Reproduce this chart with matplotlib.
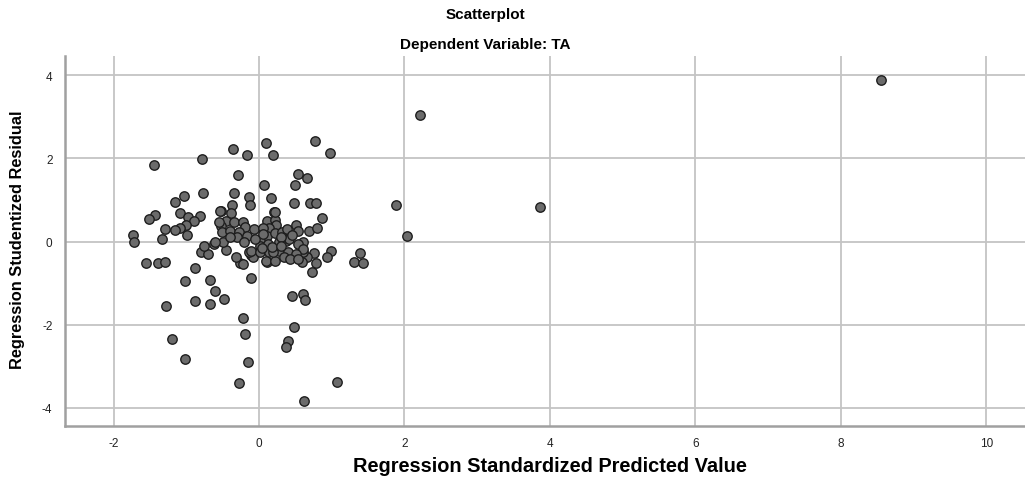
import matplotlib
matplotlib.use("Agg")
import matplotlib.pyplot as plt

# Regression standardized predicted value (x) and studentized residual (y)
pred = [8.55, 2.22, 3.86, 1.89, 2.04,
        0.77, 0.98, 0.09, -0.36, -0.16, 0.19, -0.79, -1.44,
        -0.29, 0.07, 0.54, 0.66, 0.49,
        -1.03, -1.15, -0.77, -0.35, -0.14, -0.13, 0.16, -0.37,
        -0.52, -0.39, 0.21, 0.48, 0.70, 0.79,
        -1.43, -1.51, -1.09, -0.97, -0.81, -0.90, -1.00, -1.09, -1.16, -1.29, -0.99, -1.73, -1.72, -1.33,
        0.87, 0.69, 0.80, 0.51, 0.53,
        1.39, 1.30, 1.43, 0.99, 0.94, 0.79, 0.73, 0.76, 0.66, 0.61, 0.59, 0.60,
        -1.55, -1.39, -1.29, -0.88, -1.02, -0.68, -0.60, -0.48, -0.88, -0.67, -1.28, -0.11, -0.22, -0.19,
        -1.20, -1.02, -0.15, -0.27, 0.62, 0.46, 0.60, 0.63, 0.48, 0.40, 0.37, 1.07,
        0.11, -0.26, -0.22, -0.32, -0.11, -0.08, -0.14, -0.46, -0.80, -0.70, -0.76, -0.62, -0.50,
        -0.46, -0.35, -0.22, -0.19, -0.52, -0.51, -0.40, -0.27, -0.16, -0.07, -0.61, 0.11, 0.22, 0.24,
        0.14, 0.06, 0.22, 0.11, 0.22, 0.31, 0.38, 0.01, 0.01, 0.13, 0.27, 0.37, 0.41, 0.53, 0.61,
        -0.11, 0.01, 0.14, 0.27, 0.40, 0.51, 0.10, 0.22, 0.34, 0.43, 0.53,
        -0.54, -0.55, 0.19,
        -0.05, 0.05, 0.30, 0.18, -0.30, -0.20, 0.45, 0.30, -0.40, 0.04]
resid = [3.88, 3.04, 0.84, 0.88, 0.13,
         2.41, 2.13, 2.38, 2.22, 2.08, 2.07, 1.98, 1.83,
         1.59, 1.35, 1.62, 1.53, 1.35,
         1.09, 0.96, 1.17, 1.16, 1.08, 0.89, 1.05, 0.87,
         0.73, 0.68, 0.72, 0.93, 0.92, 0.92,
         0.63, 0.54, 0.68, 0.60, 0.61, 0.49, 0.40, 0.32, 0.28, 0.30, 0.16, 0.16, 0.00, 0.05,
         0.56, 0.26, 0.32, 0.40, 0.26,
         -0.28, -0.49, -0.52, -0.22, -0.38, -0.52, -0.72, -0.28, -0.37, -0.25, -0.48, -0.02,
         -0.52, -0.52, -0.48, -0.63, -0.94, -0.92, -1.20, -1.37, -1.43, -1.50, -1.55, -0.87, -1.83, -2.22,
         -2.34, -2.82, -2.90, -3.39, -3.84, -1.31, -1.27, -1.40, -2.06, -2.40, -2.54, -3.37,
         -0.48, -0.52, -0.54, -0.37, -0.32, -0.37, -0.25, -0.20, -0.25, -0.31, -0.10, -0.06, -0.02,
         0.50, 0.46, 0.46, 0.36, 0.37, 0.22, 0.26, 0.24, 0.13, 0.30, -0.02, 0.50, 0.52, 0.41,
         0.32, 0.32, 0.70, 0.14, 0.20, 0.22, 0.30, 0.02, -0.10, -0.06, -0.02, 0.02, 0.06, -0.06, -0.18,
         -0.22, -0.26, -0.26, -0.22, -0.24, -0.30, -0.46, -0.46, -0.38, -0.42, -0.42,
         0.74, 0.46, -0.26,
         0.05, 0.18, 0.10, -0.14, 0.10, 0.00, 0.15, -0.10, 0.10, -0.15]

x_ticks = [-2, 0, 2, 4, 6, 8, 10]
y_ticks = [-4, -2, 0, 2, 4]
x_labels = ["-2", "0", "2", "4", "6", "8", "10"]
y_labels = ["-4", "-2", "0", "2", "4"]

title = "Scatterplot"
subtitle = "Dependent Variable: TA"
xlabel = "Regression Standardized Predicted Value"
ylabel = "Regression Studentized Residual"

plt.rcParams['font.family'] = ['Liberation Sans', 'DejaVu Sans']

fig = plt.figure(figsize=(10.25, 4.81), dpi=100)
ax = fig.add_axes([65/1025, 1 - 427.3/481, 1 - 65/1025, (427.3 - 57)/481])

ax.set_xlim(-2.667, 10.53)
ax.set_ylim(-4.44, 4.46)

ax.set_xticks(x_ticks)
ax.set_xticklabels(x_labels)
ax.set_yticks(y_ticks)
ax.set_yticklabels(y_labels)
ax.tick_params(axis='both', length=0, labelsize=8.5, colors='#222222')
ax.tick_params(axis='x', pad=8)
ax.tick_params(axis='y', pad=9)

ax.grid(True, color='#c4c4c4', linewidth=1.3)
ax.set_axisbelow(True)
for side in ['top', 'right']:
    ax.spines[side].set_visible(False)
for side in ['left', 'bottom']:
    ax.spines[side].set_color('#a0a0a0')
    ax.spines[side].set_linewidth(1.8)

ax.scatter(pred, resid, s=46, facecolor='#6b6b6b', edgecolor='#1e1e1e',
           linewidths=1.0, zorder=3)

fig.text(485/1025, 1 - 15/481, title, ha='center', va='center', fontsize=11,
         fontweight='bold')
fig.text(485/1025, 1 - 45/481, subtitle, ha='center', va='center', fontsize=11,
         fontweight='bold')
fig.text(550/1025, 1 - 467/481, xlabel, ha='center', va='center', fontsize=14.4,
         fontweight='bold')
fig.text(18/1025, 1 - 240/481, ylabel, ha='center', va='center', fontsize=11.8,
         fontweight='bold', rotation=90)

fig.savefig("out.png", dpi=100)
